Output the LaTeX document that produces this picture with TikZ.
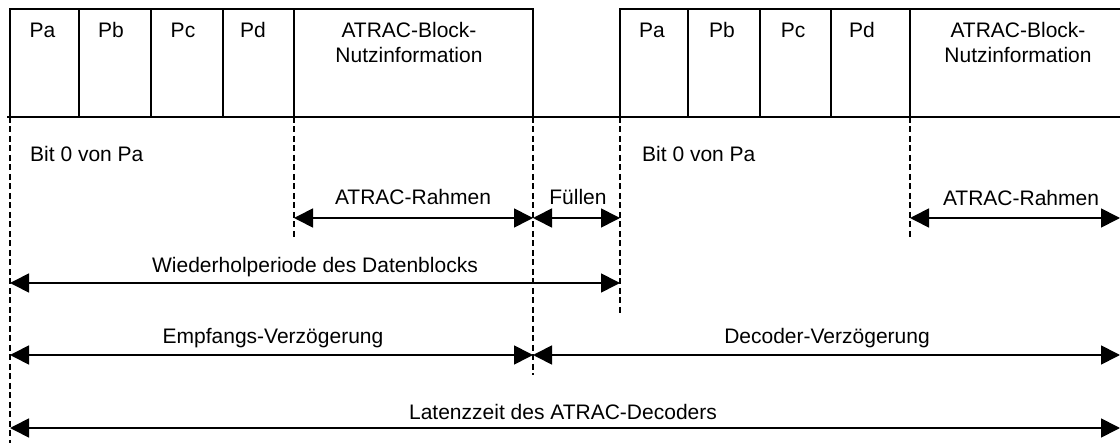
\documentclass[tikz,border=0pt]{standalone}
\usepackage{fontspec}
\setmainfont{Liberation Sans}
\usetikzlibrary{arrows.meta}
\tikzset{
  frame/.style={line width=2pt, line cap=rect},
  guide/.style={line width=1.5pt, dash pattern=on 6pt off 3.5pt},
  dim/.style={line width=1.7pt, {Triangle[length=19pt,width=19pt]}-{Triangle[length=19pt,width=19pt]}},
  lbl/.style={inner sep=0pt, anchor=base, font=\fontsize{21}{25}\selectfont},
  lblw/.style={lbl, anchor=base west},
  blk/.style={lbl, align=center},
}
\begin{document}
\begin{tikzpicture}[x=1pt,y=-1pt]
\useasboundingbox (0,0) rectangle (1120,446);
% frame corner coordinates
\foreach \n/\x in {a/10,b/79,c/151,d/223,e/294,f/533,g/620,h/688,i/760,j/831,k/910}{
  \coordinate (t\n) at (\x,9);
  \coordinate (b\n) at (\x,117);
}
\coordinate (tz) at (1120,9);
\coordinate (bl) at (8,117);
\coordinate (bz) at (1120,117);
% frames
\draw[frame] (ta) -- (tf);
\draw[frame] (tg) -- (tz);
\draw[frame] (bl) -- (bz);
\foreach \n in {a,b,c,d,e,f,g,h,i,j,k}{ \draw[frame] (t\n) -- (b\n); }
% field labels
\node[lbl] (pa1) at (42.5,38) {Pa};
\node[lbl] (pb1) at (111,38) {Pb};
\node[lbl] (pc1) at (183,38) {Pc};
\node[lbl] (pd1) at (253,38) {Pd};
\node[blk] (nu1) at (409,63) {ATRAC-Block-\\Nutzinformation};
\node[lbl] (pa2) at (652,38) {Pa};
\node[lbl] (pb2) at (722,38) {Pb};
\node[lbl] (pc2) at (793,38) {Pc};
\node[lbl] (pd2) at (862,38) {Pd};
\node[blk] (nu2) at (1018,63) {ATRAC-Block-\\Nutzinformation};
% guide line end points
\coordinate (ga) at (10,443);
\coordinate (ge) at (294,240);
\coordinate (gf) at (533,375);
\coordinate (gg) at (620,315);
\coordinate (gk) at (910,240);
\draw[guide] (ba) -- (ga);
\draw[guide] (be) -- (ge);
\draw[guide] (bf) -- (gf);
\draw[guide] (bg) -- (gg);
\draw[guide] (bk) -- (gk);
\node[lblw] (bit1) at (30,162) {Bit 0 von Pa};
\node[lblw] (bit2) at (642,162) {Bit 0 von Pa};
% dimension arrow end points
\coordinate (r1a) at (294,218); \coordinate (r1b) at (533,218);
\coordinate (r2b) at (620,218);
\coordinate (r3a) at (910,218); \coordinate (r3b) at (1120,218);
\coordinate (wa) at (10,283);   \coordinate (wb) at (620,283);
\coordinate (ea) at (10,355);   \coordinate (eb) at (533,355);
\coordinate (db) at (1120,355);
\coordinate (la) at (10,428);   \coordinate (lb) at (1120,428);
\draw[dim] (r1a) -- (r1b);
\draw[dim] (r1b) -- (r2b);
\draw[dim] (r3a) -- (r3b);
\draw[dim] (wa) -- (wb);
\draw[dim] (ea) -- (eb);
\draw[dim] (eb) -- (db);
\draw[dim] (la) -- (lb);
\node[lbl] (rl1) at (413,205) {ATRAC-Rahmen};
\node[lbl] (fl) at (578,205) {Füllen};
\node[lbl] (rl2) at (1021,206) {ATRAC-Rahmen};
\node[lbl] (wl) at (315,273) {Wiederholperiode des Datenblocks};
\node[lbl] (el) at (273,344) {Empfangs-Verzögerung};
\node[lbl] (dl) at (827,344) {Decoder-Verzögerung};
\node[lbl] (ll) at (563,420) {Latenzzeit des ATRAC-Decoders};
\end{tikzpicture}
\end{document}
